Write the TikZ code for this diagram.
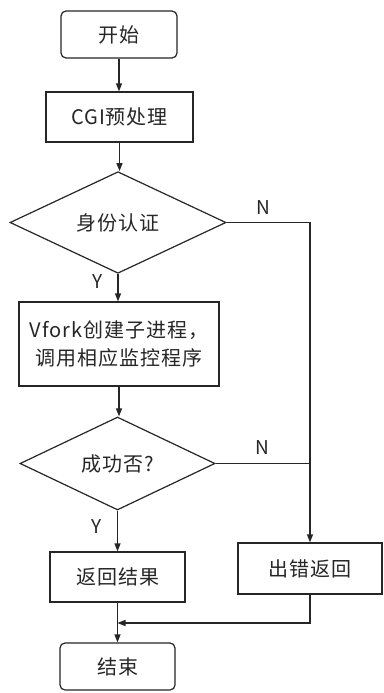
\documentclass[tikz,border=0pt]{standalone}
\usepackage{fontspec}
\newfontfamily\cjk[LetterSpace=5]{Noto Sans CJK SC}
\usetikzlibrary{shapes.geometric,arrows.meta}
\begin{document}
\begin{tikzpicture}[x=1pt,y=1pt,
  every node/.style={font=\cjk\fontsize{20}{28}\selectfont, text=black!85},
  line/.style={draw=black!85, line width=1.2pt},
  arr/.style={line, -{Triangle[length=8pt,width=6pt]}},
  term/.style={line, draw, rectangle, rounded corners=5pt, inner sep=0pt},
  proc/.style={line, draw, rectangle, inner sep=0pt, align=center},
  dec/.style={line, draw, diamond, inner sep=0pt},
  lab/.style={font=\cjk\fontsize{19}{22}\selectfont}]
\useasboundingbox[fill=white] (0,0) rectangle (383,-693);

\node[term, minimum width=116pt, minimum height=47pt] (start) at (119,-34.5) {开始};
\node[proc, minimum width=147pt, minimum height=50pt] (cgi) at (119.5,-117) {CGI预处理};
\node[dec, minimum width=216pt, minimum height=91pt] (d1) at (118,-222.5) {身份认证};
\node[proc, minimum width=200pt, minimum height=84pt] (vfork) at (119,-344) {Vfork创建子进程，\\调用相应监控程序};
\node[dec, minimum width=195pt, minimum height=93pt] (d2) at (117.5,-463.5) {成功否?};
\node[proc, minimum width=135pt, minimum height=50pt] (ret) at (117.5,-577) {返回结果};
\node[proc, minimum width=144pt, minimum height=51pt] (err) at (310,-568.5) {出错返回};
\node[term, minimum width=115pt, minimum height=47pt] (end) at (117.5,-666.5) {结束};

\coordinate (join) at (117.5,-623);

\draw[arr] (start.south) -- (start.south |- cgi.north);
\draw[arr] (cgi.south) -- (cgi.south |- d1.north);
\draw[arr] (d1.south) -- (d1.south |- vfork.north);
\draw[arr] (d1.east) -| (err.north);
\draw[arr] (vfork.south) -- (vfork.south |- d2.north);
\draw[line] (d2.east) -- (err.north |- d2.east);
\draw[arr] (d2.south) -- (d2.south |- ret.north);
\draw[arr] (ret.south) -- (end.north);
\draw[arr] (err.south) |- (join);

\node[lab] (n1) at (263,-208) {N};
\node[lab] (y1) at (98,-282) {Y};
\node[lab] (n2) at (262,-448) {N};
\node[lab] (y2) at (97,-527) {Y};
\end{tikzpicture}
\end{document}
